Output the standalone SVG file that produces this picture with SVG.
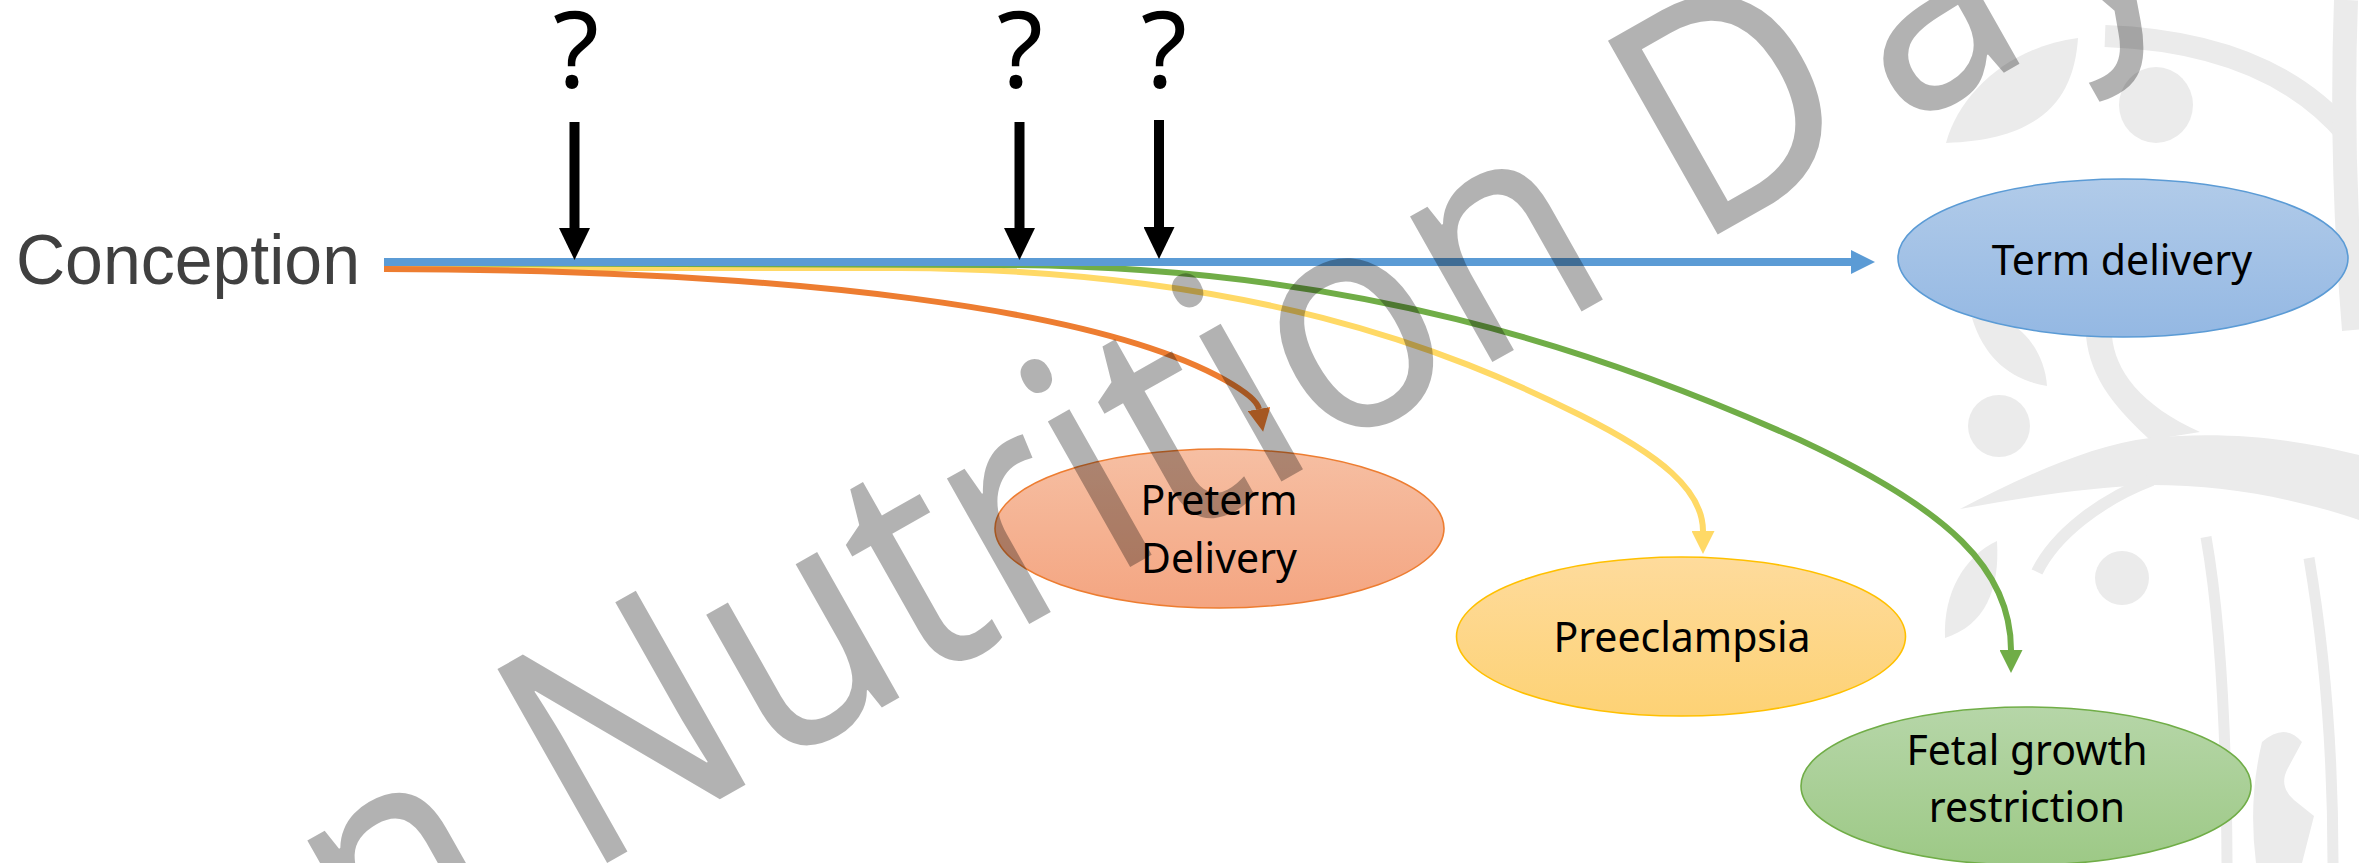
<svg xmlns="http://www.w3.org/2000/svg" width="2359" height="863" viewBox="0 0 2359 863">
  <defs>
    <style>
      .lbl{font-family:"Noto Sans","Open Sans",sans-serif;font-size:41px;fill:#000;text-anchor:middle}
      .q{font-family:"Noto Sans","Open Sans",sans-serif;font-size:106px;fill:#000;text-anchor:middle}
      .logo{fill:#ebebeb}
      .logo-band{fill:none;stroke:#ebebeb;stroke-linecap:butt}
      .wire{fill:none;stroke-linecap:butt}
      .node{stroke-width:1.6}
    </style>
    <linearGradient id="gBlue" x1="0" y1="0" x2="0" y2="1">
      <stop offset="0" stop-color="#b1cbe9"/>
      <stop offset="1" stop-color="#94b8e3"/>
    </linearGradient>
    <linearGradient id="gOrange" x1="0" y1="0" x2="0" y2="1">
      <stop offset="0" stop-color="#f6bfa3"/>
      <stop offset="1" stop-color="#f4a581"/>
    </linearGradient>
    <linearGradient id="gYellow" x1="0" y1="0" x2="0" y2="1">
      <stop offset="0" stop-color="#fedb9c"/>
      <stop offset="1" stop-color="#fdd275"/>
    </linearGradient>
    <linearGradient id="gGreen" x1="0" y1="0" x2="0" y2="1">
      <stop offset="0" stop-color="#b6d6a8"/>
      <stop offset="1" stop-color="#9dc986"/>
    </linearGradient>
    <marker id="headBlack" markerUnits="userSpaceOnUse" markerWidth="32" markerHeight="31" viewBox="0 0 32 31" refX="0" refY="15.5" orient="auto">
      <path d="M0,0 L32,15.5 L0,31 Z" fill="#000"/>
    </marker>
    <marker id="headBlue" markerUnits="userSpaceOnUse" markerWidth="24" markerHeight="24" viewBox="0 0 24 24" refX="0" refY="12" orient="auto">
      <path d="M0,0 L24,12 L0,24 Z" fill="#5b9bd5"/>
    </marker>
    <marker id="headOrange" markerUnits="userSpaceOnUse" markerWidth="23" markerHeight="23" viewBox="0 0 23 23" refX="0" refY="11.5" orient="auto">
      <path d="M0,0 L23,11.5 L0,23 Z" fill="#ed7d31"/>
    </marker>
    <marker id="headYellow" markerUnits="userSpaceOnUse" markerWidth="23" markerHeight="23" viewBox="0 0 23 23" refX="0" refY="11.5" orient="auto">
      <path d="M0,0 L23,11.5 L0,23 Z" fill="#ffd966"/>
    </marker>
    <marker id="headGreen" markerUnits="userSpaceOnUse" markerWidth="23" markerHeight="23" viewBox="0 0 23 23" refX="0" refY="11.5" orient="auto">
      <path d="M0,0 L23,11.5 L0,23 Z" fill="#70ad47"/>
    </marker>
  </defs>

  <rect width="2359" height="863" fill="#fff"/>

  <!-- faint logo artwork in the background, right side -->
  <g id="logo">
    <path class="logo-band" d="M2105,36 Q2270,42 2348,135" stroke-width="22"/>
    <path class="logo-band" d="M2346,0 Q2340,160 2354,330" stroke-width="24"/>
    <path class="logo" d="M1946,143 C1960,92 2010,47 2078,38 C2074,100 2040,140 1946,143 Z"/>
    <ellipse class="logo" cx="2156" cy="105" rx="37" ry="38"/>
    <path class="logo" d="M1972,318 C1985,360 2012,380 2047,386 C2045,358 2030,334 2008,322 Z"/>
    <circle class="logo" cx="1999" cy="426" r="31"/>
    <path class="logo" d="M2086,336 L2112,336 C2115,370 2140,405 2200,432 L2150,440 C2118,410 2090,380 2086,336 Z"/>
    <path class="logo" d="M1960,509 C2020,478 2090,445 2150,438 C2230,430 2300,440 2359,455 L2359,520 C2300,500 2230,485 2150,485 C2080,488 2020,498 1960,509 Z"/>
    <path class="logo-band" d="M2037,572 C2055,535 2100,500 2152,480" stroke-width="12"/>
    <circle class="logo" cx="2122" cy="578" r="27"/>
    <path class="logo" d="M1945,638 C1943,592 1965,556 1997,541 C2000,590 1985,625 1945,638 Z"/>
    <path class="logo-band" d="M2206,537 Q2226,650 2227,863" stroke-width="11"/>
    <path class="logo-band" d="M2309,558 Q2333,700 2333,863" stroke-width="11"/>
    <path class="logo" d="M2262,742 Q2285,722 2302,742 L2288,768 Q2278,786 2294,800 L2314,816 L2302,863 L2256,863 Q2248,800 2262,742 Z"/>
  </g>

  <!-- connectors -->
  <g id="connectors">
    <path class="wire" d="M384,268 L900,268 C1250,270 1450,350 1580,415 C1660,455 1703,490 1703,531" stroke="#ffd966" stroke-width="6" marker-end="url(#headYellow)"/>
    <path class="wire" d="M384,263 L1000,265 C1350,266 1600,350 1800,440 C1950,510 2011,570 2011,650" stroke="#70ad47" stroke-width="6" marker-end="url(#headGreen)"/>
    <path class="wire" d="M384,269 C800,270 1100,310 1225,380 Q1257,398 1259,409" stroke="#ed7d31" stroke-width="6" marker-end="url(#headOrange)"/>
    <path class="wire" d="M384,262 H1851" stroke="#5b9bd5" stroke-width="8" marker-end="url(#headBlue)"/>
    <path class="wire" d="M574.5,122 V228" stroke="#000" stroke-width="10" marker-end="url(#headBlack)"/>
    <path class="wire" d="M1019.5,122 V228" stroke="#000" stroke-width="10" marker-end="url(#headBlack)"/>
    <path class="wire" d="M1159,120 V227" stroke="#000" stroke-width="10" marker-end="url(#headBlack)"/>
  </g>

  <!-- question marks above the timeline arrows -->
  <g id="questions">
    <text class="q" x="576" y="88">?</text>
    <text class="q" x="1020" y="88">?</text>
    <text class="q" x="1164" y="88">?</text>
  </g>

  <g id="conception">
    <text x="16" y="284" font-family="Liberation Sans, Arial, sans-serif" font-size="70" fill="#404040" textLength="344" lengthAdjust="spacingAndGlyphs">Conception</text>
  </g>

  <g id="term-delivery">
    <ellipse class="node" cx="2123" cy="258" rx="225" ry="79" fill="url(#gBlue)" stroke="#5b9bd5"/>
    <text class="lbl" x="2122" y="275">Term delivery</text>
  </g>

  <g id="preterm-delivery">
    <ellipse class="node" cx="1219.5" cy="528.5" rx="224.5" ry="79.5" fill="url(#gOrange)" stroke="#ed7d31"/>
    <text class="lbl" x="1219" y="515">Preterm</text>
    <text class="lbl" x="1219" y="573">Delivery</text>
  </g>

  <g id="preeclampsia">
    <ellipse class="node" cx="1681" cy="636.5" rx="224.5" ry="79.5" fill="url(#gYellow)" stroke="#ffc000"/>
    <text class="lbl" x="1682" y="652">Preeclampsia</text>
  </g>

  <g id="fetal-growth-restriction">
    <ellipse class="node" cx="2026" cy="786" rx="225" ry="79" fill="url(#gGreen)" stroke="#70ad47"/>
    <text class="lbl" x="2027" y="765">Fetal growth</text>
    <text class="lbl" x="2027" y="822">restriction</text>
  </g>

  <!-- translucent diagonal watermark over everything -->
  <g id="watermark" transform="translate(607,863) rotate(-29.5) scale(0.9,1)">
    <text x="-304" y="0" font-family="Noto Sans, Open Sans, sans-serif" font-size="312" fill="#000" fill-opacity="0.3">n Nutrition <tspan dx="10">D</tspan><tspan dx="38">a</tspan><tspan dx="28">y</tspan></text>
  </g>
</svg>
